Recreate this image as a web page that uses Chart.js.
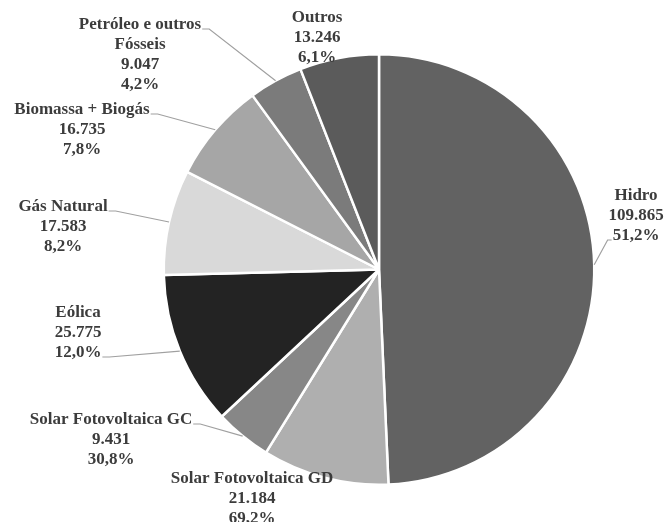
<!DOCTYPE html>
<html>
<head>
<meta charset="utf-8">
<script src="https://cdn.jsdelivr.net/npm/chart.js@4/dist/chart.umd.min.js"></script>
<style>
  html, body { margin: 0; padding: 0; background: #ffffff; }
  #wrap { width: 671px; height: 522px; position: relative; }
</style>
</head>
<body>
<div id="wrap"><canvas id="c" width="671" height="522"></canvas></div>
<script>
// ---- data ----
const categories = [
  ["Hidro"],
  ["Solar Fotovoltaica GD"],
  ["Solar Fotovoltaica GC"],
  ["Eólica"],
  ["Gás Natural"],
  ["Biomassa + Biogás"],
  ["Petróleo e outros", "Fósseis"],
  ["Outros"]
];
const values = [109865, 21184, 9431, 25775, 17583, 16735, 9047, 13246];
const valueLabels = ["109.865", "21.184", "9.431", "25.775", "17.583", "16.735", "9.047", "13.246"];
const percentLabels = ["51,2%", "69,2%", "30,8%", "12,0%", "8,2%", "7,8%", "4,2%", "6,1%"];

// ---- styles / layout ----
const sliceColors = ["#626262", "#afafaf", "#878787", "#232323", "#d9d9d9", "#a6a6a6", "#7b7b7b", "#5b5b5b"];
// label block: center x, y of first line centre, line used for leader, side of leader
const labelLayout = [
  { cx: 636, y0: 196, line: 2, side: "left" },
  { cx: 252, y0: 479, line: null, side: null },
  { cx: 111, y0: 420, line: 0, side: "right" },
  { cx: 78,  y0: 313, line: 2, side: "right" },
  { cx: 63,  y0: 207, line: 0, side: "right" },
  { cx: 82,  y0: 110, line: 0, side: "right" },
  { cx: 140, y0: 25,  line: 0, side: "right" },
  { cx: 317, y0: 18,  line: null, side: null }
];
const lineHeight = 20;
const labelFont = 'bold 17px "Liberation Serif", "Times New Roman", serif';
const textColor = "#3c3c3c";
const leaderColor = "#a0a0a0";

const labelPlugin = {
  id: "outLabels",
  afterDatasetsDraw(chart) {
    const ctx = chart.ctx;
    const meta = chart.getDatasetMeta(0);
    ctx.save();
    ctx.font = labelFont;
    ctx.textAlign = "center";
    ctx.textBaseline = "middle";
    meta.data.forEach((arc, i) => {
      const L = labelLayout[i];
      const lines = categories[i].concat([valueLabels[i], percentLabels[i]]);
      // leader line
      if (L.line !== null) {
        const mid = (arc.startAngle + arc.endAngle) / 2;
        const px = arc.x + Math.cos(mid) * arc.outerRadius;
        const py = arc.y + Math.sin(mid) * arc.outerRadius;
        const txt = lines[L.line];
        const w = ctx.measureText(txt).width;
        const ly = L.y0 + L.line * lineHeight + 4;
        let ax, bx;
        if (L.side === "right") { ax = L.cx + w / 2 + 1; bx = ax + 7; }
        else { ax = L.cx - w / 2 - 1; bx = ax - 4; }
        ctx.strokeStyle = leaderColor;
        ctx.lineWidth = 1.2;
        ctx.beginPath();
        ctx.moveTo(ax, ly);
        ctx.lineTo(bx, ly);
        ctx.lineTo(px, py);
        ctx.stroke();
      }
      ctx.fillStyle = textColor;
      lines.forEach((t, k) => {
        ctx.fillText(t, L.cx, L.y0 + k * lineHeight);
      });
    });
    ctx.restore();
  }
};

new Chart(document.getElementById("c"), {
  type: "pie",
  data: {
    labels: categories.map(c => c.join(" ")),
    datasets: [{
      data: values,
      backgroundColor: sliceColors,
      borderColor: "#ffffff",
      borderWidth: 2.5
    }]
  },
  options: {
    responsive: false,
    animation: false,
    layout: { padding: { left: 162.5, right: 75.5, top: 53, bottom: 36 } },
    plugins: {
      legend: { display: false },
      tooltip: { enabled: false },
      title: { display: false }
    }
  },
  plugins: [labelPlugin]
});
</script>
</body>
</html>
